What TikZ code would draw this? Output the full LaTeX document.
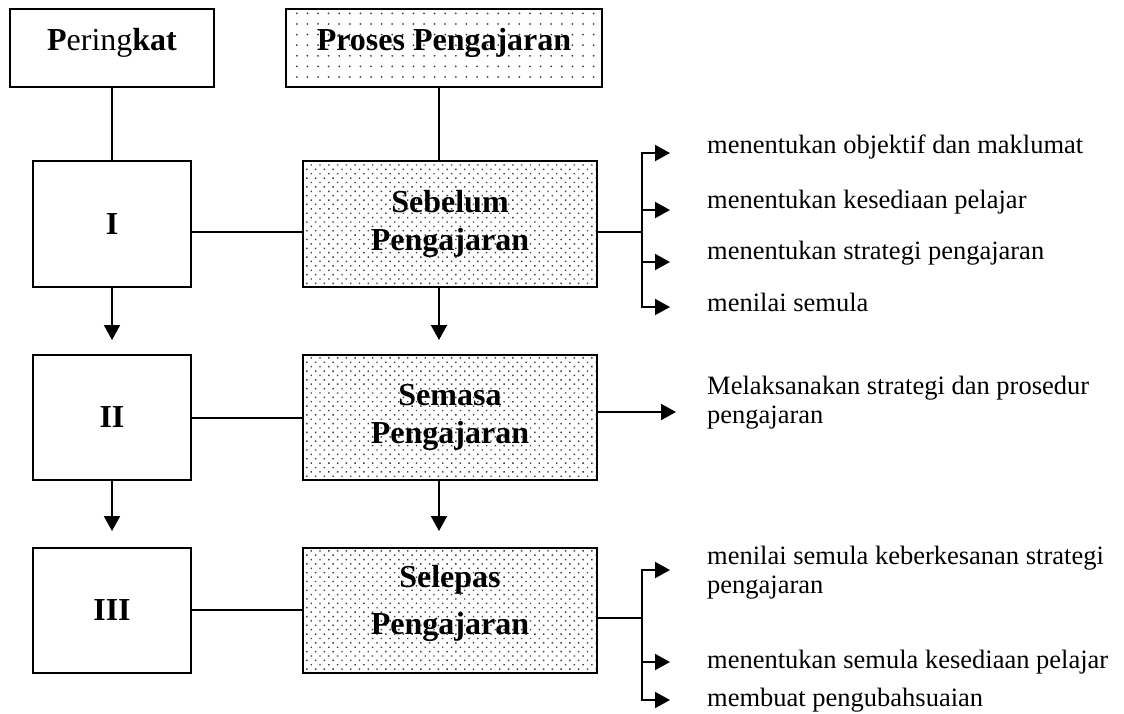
\documentclass[tikz,border=0pt]{standalone}
\usepackage{fontspec}
\setmainfont{Liberation Serif}
\usetikzlibrary{arrows.meta,patterns.meta}
\begin{document}
\begin{tikzpicture}[x=1pt,y=-1pt,
  box/.style={draw, line width=1.6pt, inner sep=0pt, font=\fontsize{32}{38}\selectfont\bfseries, align=center},
  sparse/.style={pattern={Dots[distance=10.6pt, radius=1pt]}, pattern color=black!75},
  dense/.style={pattern={Dots[distance=6.2pt, angle=45, radius=1pt]}, pattern color=black!75},
  ln/.style={line width=2pt},
  arr/.style={line width=2pt, -{Triangle[width=16pt,length=15pt]}},
  lbl/.style={inner sep=0pt, font=\fontsize{26.5}{29}\selectfont, align=left}
]
\fill[white] (0,0) rectangle (1124,713);
\useasboundingbox (0,0) rectangle (1124,713);

% boxes
\node[box, minimum width=204pt, minimum height=78pt, text depth=17pt] (per) at (112,48) {P{\mdseries ering}kat};
\node[box, sparse, minimum width=316pt, minimum height=78pt, text depth=17pt] (pro) at (444,48) {Proses Pengajaran};
\node[box, minimum width=158pt, minimum height=126pt] (r1) at (112,224) {I};
\node[box, dense, minimum width=294pt, minimum height=126pt] (seb) at (450,224) {Sebelum\\Pengajaran};
\node[box, minimum width=158pt, minimum height=125pt] (r2) at (112,417.5) {II};
\node[box, dense, minimum width=294pt, minimum height=125pt] (sem) at (450,417.5) {Semasa\\Pengajaran};
\node[box, minimum width=158pt, minimum height=125pt] (r3) at (112,610.5) {III};
\node[box, dense, minimum width=294pt, minimum height=125pt, text depth=21pt] (sel) at (450,610.5) {Selepas\\[9pt]Pengajaran};

% helper coordinates
\coordinate (pcol) at (439,0);
\coordinate (y1) at (0,232);
\coordinate (y2l) at (0,418);
\coordinate (y2r) at (0,412);
\coordinate (y3l) at (0,610);
\coordinate (y3r) at (0,618);
\coordinate (j1) at (642,232);
\coordinate (a11) at (670,153);
\coordinate (a12) at (670,210);
\coordinate (a13) at (670,262);
\coordinate (a14) at (670,307);
\coordinate (a2) at (676,412);
\coordinate (j3) at (642,618);
\coordinate (a31) at (670,570);
\coordinate (a32) at (670,662);
\coordinate (a33) at (670,700);
\coordinate (d1) at (112,340);
\coordinate (d2) at (112,531);
\coordinate (d3) at (439,340);
\coordinate (d4) at (439,531);

% connectors
\draw[ln] (per.south) -- (r1.north);
\draw[ln] (pro.south -| pcol) -- (seb.north -| pcol);
\draw[ln] (r1.east |- y1) -- (seb.west |- y1);
\draw[ln] (seb.east |- y1) -- (j1);
\foreach \t in {a11,a12,a13,a14} \draw[arr] (j1) |- (\t);
\draw[arr] (r1.south) -- (d1);
\draw[arr] (seb.south -| pcol) -- (d3);
\draw[ln] (r2.east |- y2l) -- (sem.west |- y2l);
\draw[arr] (sem.east |- y2r) -- (a2);
\draw[arr] (r2.south) -- (d2);
\draw[arr] (sem.south -| pcol) -- (d4);
\draw[ln] (r3.east |- y3l) -- (sel.west |- y3l);
\draw[ln] (sel.east |- y3r) -- (j3);
\foreach \t in {a31,a32,a33} \draw[arr] (j3) |- (\t);

% labels
\node[lbl, anchor=base west] (t11) at (707,153) {menentukan objektif dan maklumat};
\node[lbl, anchor=base west] (t12) at (707,208) {menentukan kesediaan pelajar};
\node[lbl, anchor=base west] (t13) at (707,259) {menentukan strategi pengajaran};
\node[lbl, anchor=base west] (t14) at (707,311) {menilai semula};
\node[lbl, anchor=west] (t2) at (707,403) {Melaksanakan strategi dan prosedur\\pengajaran};
\node[lbl, anchor=west] (t31) at (707,573) {menilai semula keberkesanan strategi\\pengajaran};
\node[lbl, anchor=base west] (t32) at (707,668) {menentukan semula kesediaan pelajar};
\node[lbl, anchor=base west] (t33) at (707,706) {membuat pengubahsuaian};
\end{tikzpicture}
\end{document}
